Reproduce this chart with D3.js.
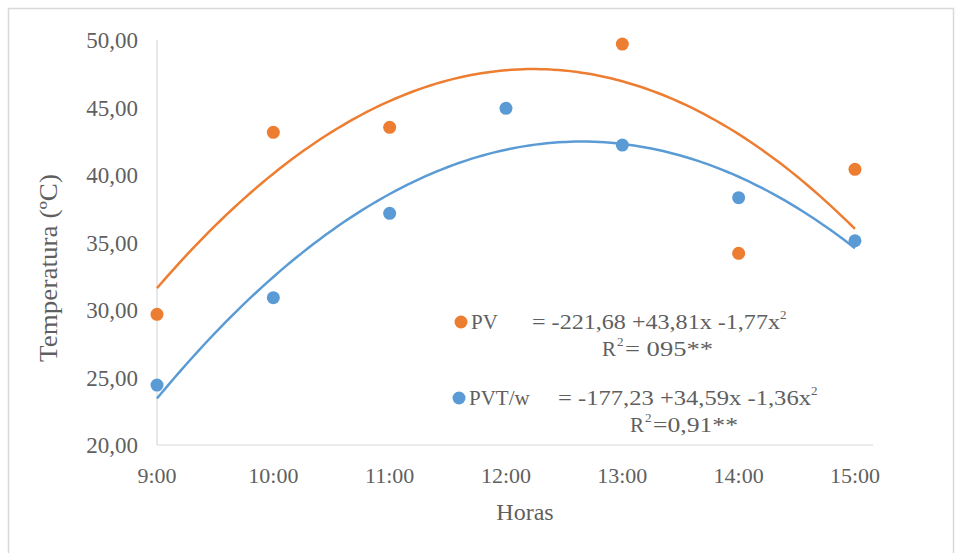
<!DOCTYPE html>
<html><head><meta charset="utf-8">
<script src="https://cdn.jsdelivr.net/npm/d3@7"></script>
<style>
body{margin:0;background:#fff;}
text{font-family:"Liberation Serif","Times New Roman",serif;fill:#5f5f5f;}
</style>
</head><body>
<svg id="chart" width="958" height="553"></svg>
<script>
// ---- data ----
const hours = [9, 10, 11, 12, 13, 14, 15];
const hourLabels = ["9:00", "10:00", "11:00", "12:00", "13:00", "14:00", "15:00"];
// PV at 12:00 lies above the axis maximum (hidden, as in the original), but it still shapes the trendline
const pvValues  = [29.68, 43.16, 43.53, 50.25, 49.70, 34.20, 40.42];
const pvtValues = [24.44, 30.91, 37.16, 44.94, 42.22, 38.32, 35.13];
const yTicks = [20, 25, 30, 35, 40, 45, 50];
const yTickLabels = ["20,00", "25,00", "30,00", "35,00", "40,00", "45,00", "50,00"];
const seriesNames = ["PV", "PVT/w"];
const eqTexts = ["= -221,68 +43,81x -1,77x", "= -177,23 +34,59x -1,36x"];
const r2Texts = ["= 095**", "=0,91**"];
const xTitle = "Horas";
const yTitle = "Temperatura (ºC)";

const colors = ["#ED7D31", "#5B9BD5"];
const svg = d3.select("#chart");

// chart border
svg.append("rect").attr("x", 8.5).attr("y", 8.5).attr("width", 945).attr("height", 560)
  .attr("fill", "none").attr("stroke", "#d9d9d9").attr("stroke-width", 1.5);

const x = d3.scaleLinear().domain([9, 15.155]).range([157, 873]);
const y = d3.scaleLinear().domain([20, 50]).range([445, 40]);

// axes lines
svg.append("line").attr("x1", x(9)).attr("x2", x(9)).attr("y1", y(50)).attr("y2", y(20))
  .attr("stroke", "#d9d9d9").attr("stroke-width", 1.2);
svg.append("line").attr("x1", x(9)).attr("x2", x(15.155)).attr("y1", y(20)).attr("y2", y(20))
  .attr("stroke", "#d9d9d9").attr("stroke-width", 1.2);

// y tick labels
svg.append("g").selectAll("text").data(yTicks).join("text")
  .attr("x", 138).attr("y", d => y(d)).attr("dy", "0.35em")
  .attr("text-anchor", "end").attr("font-size", 23)
  .text((d, i) => yTickLabels[i]);

// x tick labels
svg.append("g").selectAll("text").data(hours).join("text")
  .attr("x", d => x(d)).attr("y", 475).attr("dy", "0.35em")
  .attr("text-anchor", "middle").attr("font-size", 22)
  .text((d, i) => hourLabels[i]);

// titles
svg.append("text").attr("x", 525).attr("y", 512).attr("dy", "0.35em")
  .attr("text-anchor", "middle").attr("font-size", 24).text(xTitle);
svg.append("text").attr("transform", "translate(48,268) rotate(-90)").attr("dy", "0.35em")
  .attr("text-anchor", "middle").attr("font-size", 25)
  .attr("textLength", 188).attr("lengthAdjust", "spacingAndGlyphs").text(yTitle);

// quadratic least-squares fit
function quadFit(xs, ys) {
  let s = [0,0,0,0,0], t = [0,0,0];
  xs.forEach((xv, i) => {
    const yv = ys[i];
    for (let k = 0; k < 5; k++) s[k] += Math.pow(xv, k);
    for (let k = 0; k < 3; k++) t[k] += Math.pow(xv, k) * yv;
  });
  const A = [[s[0], s[1], s[2], t[0]], [s[1], s[2], s[3], t[1]], [s[2], s[3], s[4], t[2]]];
  for (let i = 0; i < 3; i++) {
    for (let j = i + 1; j < 3; j++) {
      const f = A[j][i] / A[i][i];
      for (let k = i; k < 4; k++) A[j][k] -= f * A[i][k];
    }
  }
  const c = [0,0,0];
  for (let i = 2; i >= 0; i--) {
    let v = A[i][3];
    for (let k = i + 1; k < 3; k++) v -= A[i][k] * c[k];
    c[i] = v / A[i][i];
  }
  return xv => c[0] + c[1] * xv + c[2] * xv * xv;
}

const series = [pvValues, pvtValues];
const line = d3.line().x(d => x(d[0])).y(d => y(d[1])).curve(d3.curveBasis);
const samples = d3.range(9, 15.0001, 0.05);

series.forEach((vals, si) => {
  const xc = hours.map(h => h - 12);
  const f = quadFit(xc, vals);
  svg.append("path").datum(samples.map(h => [h, f(h - 12)]))
    .attr("d", line).attr("fill", "none").attr("stroke", colors[si]).attr("stroke-width", 2.5);
});

series.forEach((vals, si) => {
  svg.append("g").selectAll("circle")
    .data(hours.map((h, i) => [h, vals[i]]).filter(d => d[1] <= 50 && d[1] >= 20))
    .join("circle").attr("cx", d => x(d[0])).attr("cy", d => y(d[1])).attr("r", 6.5)
    .attr("fill", colors[si]);
});

// legend / equations
const legendRows = [
  {mx: 461, my: 322, nameX: 471, eqX: 532, eqW: 248, r2X: 602, r2Y: 349, r2W: 88},
  {mx: 459, my: 398, nameX: 469, eqX: 558, eqW: 253, r2X: 630, r2Y: 425, r2W: 85}
];
legendRows.forEach((r, i) => {
  svg.append("circle").attr("cx", r.mx).attr("cy", r.my).attr("r", 6.5).attr("fill", colors[i]);
  svg.append("text").attr("x", r.nameX).attr("y", r.my).attr("dy", "0.35em").attr("font-size", 21).text(seriesNames[i]);
  svg.append("text").attr("x", r.eqX).attr("y", r.my).attr("dy", "0.35em").attr("font-size", 21)
    .attr("textLength", r.eqW).attr("lengthAdjust", "spacingAndGlyphs").text(eqTexts[i]);
  svg.append("text").attr("x", r.eqX + r.eqW).attr("y", r.my - 3).attr("font-size", 13).text("2");
  svg.append("text").attr("x", r.r2X).attr("y", r.r2Y).attr("dy", "0.35em").attr("font-size", 21).text("R");
  svg.append("text").attr("x", r.r2X + 15).attr("y", r.r2Y - 3).attr("font-size", 13).text("2");
  svg.append("text").attr("x", r.r2X + 23).attr("y", r.r2Y).attr("dy", "0.35em").attr("font-size", 21)
    .attr("textLength", r.r2W).attr("lengthAdjust", "spacingAndGlyphs").text(r2Texts[i]);
});
</script>
</body></html>
